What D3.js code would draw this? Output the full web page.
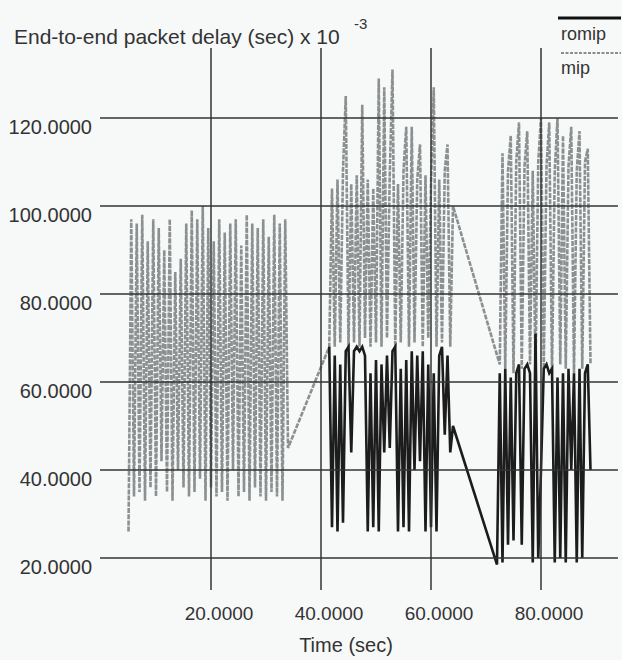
<!DOCTYPE html>
<html>

<head>
  <title>End-to-end packet delay</title>
  <script type="text/javascript" src="https://cdn.jsdelivr.net/npm/d3@7"></script>
  <style>
    body { margin: 0; background: #f7f9f9; }
    text { font-family: "Liberation Sans", Arial, sans-serif; fill: #333; }
  </style>
</head>

<body>
  <script type="text/javascript">

    // Data (delay in sec x 10^-3), one sample every half second
    const sampleStep = 0.5;

    // mip: three bursts, joined by the connecting lines
    const mipStarts = [5, 41.5, 72.5];
    const mipSeg1 = [26, 97, 34, 96, 35, 98, 33, 92, 36, 97, 34, 95, 42, 90, 35, 97, 33, 85, 40, 88,
      36, 96, 34, 99, 35, 97, 38, 100, 33, 95, 36, 92, 34, 97, 35, 94, 33, 96, 40, 97,
      34, 91, 35, 98, 33, 96, 36, 95, 34, 97, 33, 93, 35, 98, 34, 96, 33, 97, 45];
    const mipSeg2 = [68, 104, 68, 106, 69, 108, 125, 68, 105, 69, 107, 68, 123, 70, 106, 68, 104, 69, 129, 68,
      127, 70, 107, 131, 68, 105, 69, 108, 118, 68, 118, 69, 106, 114, 68, 107, 70, 105, 127, 68,
      106, 69, 108, 114, 68, 100];
    const mipSeg3 = [64, 112, 63, 108, 116, 62, 110, 119, 63, 109, 117, 64, 108, 62, 110, 120, 63, 109, 119, 62,
      108, 120, 64, 116, 63, 109, 118, 62, 108, 117, 63, 110, 113, 64];

    // romip: only in the second and third burst
    const romipStarts = [41.5, 72];
    const romipSeg2 = [68, 27, 66, 26, 64, 28, 67, 68, 44, 67, 68, 67, 68, 66, 26, 62, 27, 65, 26, 64,
      44, 66, 45, 67, 68, 26, 63, 27, 65, 26, 67, 40, 66, 42, 67, 26, 64, 27, 62, 26,
      66, 68, 48, 66, 44, 50];
    const romipSeg3 = [18.5, 62, 19, 63, 23, 61, 24, 62, 64, 23, 63, 64, 62, 19, 71, 20, 40, 63, 64, 62,
      63, 19, 61, 20, 62, 19, 63, 40, 62, 19, 63, 20, 62, 64, 40];

    const xTicks = [20, 40, 60, 80];
    const yTicks = [20, 40, 60, 80, 100, 120];

    // Width og height
    const w = 622;
    const h = 660;

    const xScale = d3.scaleLinear().domain([0, 80]).range([101, 541]);
    const yScale = d3.scaleLinear().domain([20, 120]).range([558, 118]);
    const fmt = d3.format(".4f");

    // lav punkter ud fra segmenterne
    function toPoints(starts, segs) {
      const pts = [];
      segs.forEach(function (seg, s) {
        seg.forEach(function (v, i) {
          pts.push({ t: starts[s] + i * sampleStep, v: v });
        });
      });
      return pts;
    }
    const mipPoints = toPoints(mipStarts, [mipSeg1, mipSeg2, mipSeg3]);
    const romipPoints = toPoints(romipStarts, [romipSeg2, romipSeg3]);

    const svg = d3.select("body")
      .append("svg")
      .attr("width", w)
      .attr("height", h);

    svg.append("rect")
      .attr("width", w)
      .attr("height", h)
      .attr("fill", "#f7f9f9");

    const line = d3.line()
      .x(function (d) { return xScale(d.t); })
      .y(function (d) { return yScale(d.v); });

    // mip (grå, prikket)
    svg.append("path")
      .datum(mipPoints)
      .attr("d", line)
      .attr("fill", "none")
      .attr("stroke", "#8c9090")
      .attr("stroke-width", 2.6)
      .attr("stroke-dasharray", "5,1.2");

    // romip (sort)
    svg.append("path")
      .datum(romipPoints)
      .attr("d", line)
      .attr("fill", "none")
      .attr("stroke", "#1c1c1c")
      .attr("stroke-width", 2.6);

    // Gitterlinjer
    svg.selectAll("line.hgrid")
      .data(yTicks)
      .enter()
      .append("line")
      .attr("class", "hgrid")
      .attr("x1", 100)
      .attr("x2", 618)
      .attr("y1", function (d) { return yScale(d); })
      .attr("y2", function (d) { return yScale(d); })
      .attr("stroke", "#333")
      .attr("stroke-width", 1.5);

    svg.selectAll("line.vgrid")
      .data(xTicks)
      .enter()
      .append("line")
      .attr("class", "vgrid")
      .attr("x1", function (d) { return xScale(d); })
      .attr("x2", function (d) { return xScale(d); })
      .attr("y1", 48)
      .attr("y2", 590)
      .attr("stroke", "#333")
      .attr("stroke-width", 1.5);

    // Aksetekster
    svg.selectAll("text.ylab")
      .data(yTicks)
      .enter()
      .append("text")
      .attr("class", "ylab")
      .attr("x", 92)
      .attr("y", function (d) { return yScale(d) + 16; })
      .attr("text-anchor", "end")
      .attr("font-size", 20)
      .text(function (d) { return fmt(d); });

    svg.selectAll("text.xlab")
      .data(xTicks)
      .enter()
      .append("text")
      .attr("class", "xlab")
      .attr("x", function (d) { return xScale(d) + 8; })
      .attr("y", 620)
      .attr("text-anchor", "middle")
      .attr("font-size", 19)
      .text(function (d) { return fmt(d); });

    svg.append("text")
      .attr("x", 346)
      .attr("y", 652)
      .attr("text-anchor", "middle")
      .attr("font-size", 20)
      .text("Time (sec)");

    svg.append("text")
      .attr("x", 14)
      .attr("y", 44)
      .attr("font-size", 21)
      .text("End-to-end packet delay (sec) x 10");

    svg.append("text")
      .attr("x", 354)
      .attr("y", 29)
      .attr("font-size", 15)
      .text("-3");

    // Legend
    svg.append("line")
      .attr("x1", 558).attr("x2", 621)
      .attr("y1", 18).attr("y2", 18)
      .attr("stroke", "#111")
      .attr("stroke-width", 3);
    svg.append("text")
      .attr("x", 561)
      .attr("y", 40)
      .attr("font-size", 18)
      .text("romip");
    svg.append("line")
      .attr("x1", 561).attr("x2", 621)
      .attr("y1", 53).attr("y2", 53)
      .attr("stroke", "#8a8d8d")
      .attr("stroke-width", 2)
      .attr("stroke-dasharray", "3,1.5");
    svg.append("text")
      .attr("x", 561)
      .attr("y", 74)
      .attr("font-size", 18)
      .text("mip");

  </script>
</body>

</html>
